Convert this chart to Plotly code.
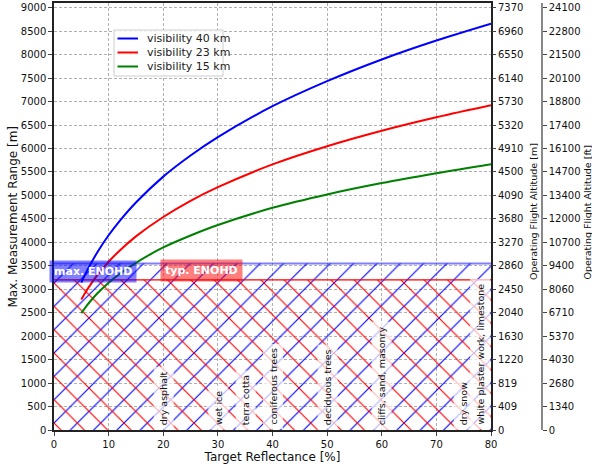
import plotly.graph_objects as go

# ---------------- data ----------------
reflectance = [5, 6, 7, 8, 10, 12, 15, 20, 25, 30, 40, 50, 60, 70, 80]
range_vis40 = [3140, 3385, 3600, 3800, 4150, 4452, 4848, 5400, 5850, 6242, 6900, 7435, 7897, 8300, 8660]
range_vis23 = [2780, 2977, 3152, 3309, 3585, 3822, 4127, 4540, 4884, 5175, 5660, 6047, 6377, 6664, 6920]
range_vis15 = [2490, 2651, 2792, 2919, 3140, 3325, 3563, 3890, 4145, 4368, 4735, 5021, 5263, 5473, 5665]
series_names = ["visibility 40 km", "visibility 23 km", "visibility 15 km"]

enohd_max = 3550
enohd_typ = 3200
x_min, x_max = 0, 80

materials = ["dry asphalt", "wet ice", "terra cotta", "coniferous trees",
             "deciduous trees", "cliffs, sand, masonry", "dry snow",
             "white plaster work, limestone"]
material_reflectance = [20, 30, 35, 40, 50, 60, 75, 78]

left_ticks = [0, 500, 1000, 1500, 2000, 2500, 3000, 3500, 4000, 4500, 5000,
              5500, 6000, 6500, 7000, 7500, 8000, 8500, 9000]
alt_m_labels = ["0", "409", "819", "1220", "1630", "2040", "2450", "2860", "3270",
                "3680", "4090", "4500", "4910", "5320", "5730", "6140", "6550",
                "6960", "7370"]
alt_ft_labels = ["0", "1340", "2680", "4030", "5370", "6710", "8060", "9400",
                 "10700", "12000", "13400", "14700", "16100", "17400", "18800",
                 "20100", "21500", "22800", "24100"]
x_ticks = [0, 10, 20, 30, 40, 50, 60, 70, 80]

# ---------------- layout helpers ----------------
FONT = "DejaVu Sans"
W, H = 592, 468
L, R, T, B = 54, 50, 3, 38
pw, ph = W - L - R, H - T - B
TICK_SIZE = 10


def px(xp):
    return (xp - L) / pw


def py(yp):
    return (H - B - yp) / ph


fig = go.Figure()

# hatched ENOHD regions (fill only) + their top edges
fig.add_trace(go.Scatter(
    x=[x_min, x_max, x_max, x_min, x_min], y=[0, 0, enohd_max, enohd_max, 0],
    mode="lines", fill="toself", fillcolor="rgba(0,0,0,0)",
    line=dict(width=0, color="rgba(0,0,0,0)"),
    fillpattern=dict(shape="/", fgcolor="#0000ff", bgcolor="rgba(0,0,0,0)",
                     fgopacity=1, size=16.5, solidity=0.07),
    showlegend=False, hoverinfo="skip"))
fig.add_trace(go.Scatter(
    x=[x_min, x_max, x_max, x_min, x_min], y=[0, 0, enohd_typ, enohd_typ, 0],
    mode="lines", fill="toself", fillcolor="rgba(0,0,0,0)",
    line=dict(width=0, color="rgba(0,0,0,0)"),
    fillpattern=dict(shape="\\", fgcolor="#ff0000", bgcolor="rgba(0,0,0,0)",
                     fgopacity=1, size=16.5, solidity=0.07),
    showlegend=False, hoverinfo="skip"))
fig.add_trace(go.Scatter(x=[x_min, x_max], y=[enohd_max, enohd_max], mode="lines",
                         line=dict(color="rgba(0,0,255,0.5)", width=2),
                         showlegend=False, hoverinfo="skip"))
fig.add_trace(go.Scatter(x=[x_min, x_max], y=[enohd_typ, enohd_typ], mode="lines",
                         line=dict(color="#ff0000", width=1.2),
                         showlegend=False, hoverinfo="skip"))

colors = ["#0000ff", "#ff0000", "#008000"]
for name, vals, c in zip(series_names, [range_vis40, range_vis23, range_vis15], colors):
    fig.add_trace(go.Scatter(x=reflectance, y=vals, mode="lines", name=name,
                             line=dict(color=c, width=2, shape="spline"),
                             showlegend=False))

# invisible traces to host the right-hand axes
fig.add_trace(go.Scatter(x=[x_min], y=[0], yaxis="y2", mode="markers",
                         marker=dict(opacity=0), showlegend=False, hoverinfo="skip"))
fig.add_trace(go.Scatter(x=[x_min], y=[0], yaxis="y3", mode="markers",
                         marker=dict(opacity=0), showlegend=False, hoverinfo="skip"))

annotations = []
shapes = []

for mat, xr in zip(materials, material_reflectance):
    annotations.append(dict(
        x=xr, y=0, xref="x", yref="y", text=mat, showarrow=False,
        textangle=-90, xanchor="center", yanchor="bottom",
        font=dict(family=FONT, size=9.5, color="#111"),
        bgcolor="rgba(255,255,255,0.7)", borderpad=4))

annotations.append(dict(x=7.2, y=3380, xref="x", yref="y", text="<b>max. ENOHD</b>",
                        showarrow=False, font=dict(family=FONT, size=11, color="white"),
                        xanchor="center", yanchor="middle",
                        bgcolor="rgba(0,0,255,0.5)", borderpad=4))
annotations.append(dict(x=27, y=3395, xref="x", yref="y", text="<b>typ. ENOHD</b>",
                        showarrow=False, font=dict(family=FONT, size=11, color="white"),
                        xanchor="center", yanchor="middle",
                        bgcolor="rgba(255,0,0,0.5)", borderpad=4))

# axis titles placed at the reference positions
for text, xp, yp, size in [("Max. Measurement Range [m]", 12.5, 217, 12),
                           ("Operating Flight Altitude [m]", 533, 212, 9.5),
                           ("Operating Flight Altitude [ft]", 586.5, 212, 9.5)]:
    annotations.append(dict(x=px(xp), y=py(yp), xref="paper", yref="paper",
                            text=text, showarrow=False, textangle=-90,
                            xanchor="center", yanchor="middle",
                            font=dict(family=FONT, size=size, color="#111")))

# legend (matplotlib-style compact box)
shapes.append(dict(type="rect", xref="paper", yref="paper",
                   x0=px(114), x1=px(223), y0=py(76), y1=py(30),
                   fillcolor="rgba(255,255,255,0.85)", line=dict(color="#cccccc", width=1)))
for i, (name, c) in enumerate(zip(series_names, colors)):
    yy = 38.5 + 14 * i
    shapes.append(dict(type="line", xref="paper", yref="paper",
                       x0=px(117.5), x1=px(138), y0=py(yy), y1=py(yy),
                       line=dict(color=c, width=2)))
    annotations.append(dict(x=px(145), y=py(yy), xref="paper", yref="paper",
                            text=name, showarrow=False, xanchor="left", yanchor="middle",
                            font=dict(family=FONT, size=11, color="#222")))

xdom_end = px(491)

axis_common = dict(showgrid=False, zeroline=False, ticks="outside", ticklen=4,
                   tickwidth=1, tickfont=dict(family=FONT, size=TICK_SIZE, color="#111"))

fig.update_layout(
    width=W, height=H,
    margin=dict(l=L, r=R, t=T, b=B, autoexpand=False),
    paper_bgcolor="white", plot_bgcolor="white",
    font=dict(family=FONT, size=11, color="#111"),
    xaxis=dict(domain=[0, xdom_end], range=[x_min, x_max], tickvals=x_ticks,
               showgrid=True, gridcolor="#b0b0b0", griddash="3px,2px", gridwidth=0.8,
               zeroline=False, showline=True, linecolor="#222", linewidth=1.5, mirror=True,
               layer="above traces",
               ticks="outside", ticklen=4, tickfont=dict(family=FONT, size=TICK_SIZE, color="#111"),
               title=dict(text="Target Reflectance [%]", font=dict(family=FONT, size=12, color="#111"),
                          standoff=4)),
    yaxis=dict(range=[0, 9100], tickvals=left_ticks,
               showgrid=True, gridcolor="#b0b0b0", griddash="3px,2px", gridwidth=0.8,
               zeroline=False, showline=True, linecolor="#222", linewidth=1.5, mirror=True,
               layer="above traces",
               ticks="outside", ticklen=4, tickfont=dict(family=FONT, size=TICK_SIZE, color="#111")),
    yaxis2=dict(overlaying="y", side="right", anchor="x", range=[0, 9100],
                tickvals=left_ticks, ticktext=alt_m_labels, showline=False, **axis_common),
    yaxis3=dict(overlaying="y", side="right", anchor="free", position=1.0, range=[0, 9100],
                tickvals=left_ticks, ticktext=alt_ft_labels, showline=True,
                linecolor="#888888", linewidth=1.5, **axis_common),
    annotations=annotations,
    shapes=shapes,
    showlegend=False,
)

fig.write_html("out.html", post_script="document.body.style.margin='0px';",
               config={"displayModeBar": False})
